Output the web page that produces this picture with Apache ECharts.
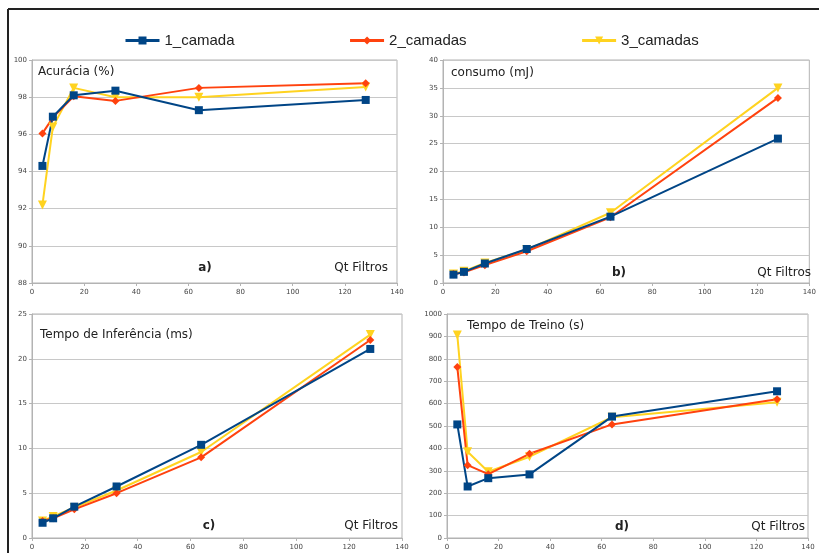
<!DOCTYPE html>
<html>
<head>
<meta charset="utf-8">
<script src="https://cdn.jsdelivr.net/npm/echarts@6/dist/echarts.min.js"></script>
<style>
  html, body { margin: 0; padding: 0; background: #fff; }
  #chart { width: 819px; height: 553px; }
</style>
</head>
<body>
<div id="chart"></div>
<script>
// Number of filters tested
const filtros = [4, 8, 16, 32, 64, 128];
const seriesNames = ['1_camada', '2_camadas', '3_camadas'];

// a) Accuracy (%)
const acuracia1 = [94.3, 96.95, 98.1, 98.35, 97.3, 97.85];
const acuracia2 = [96.05, 96.9, 98.05, 97.8, 98.5, 98.75];
const acuracia3 = [92.2, 96.4, 98.5, 98.0, 98.0, 98.55];

// b) Energy consumption (mJ)
const consumo1 = [1.5, 2.0, 3.5, 6.1, 11.9, 25.9];
const consumo2 = [1.6, 1.9, 3.2, 5.7, 11.8, 33.2];
const consumo3 = [1.6, 2.1, 3.6, 6.0, 12.6, 35.0];

// c) Inference time (ms)
const inferencia1 = [1.7, 2.2, 3.5, 5.75, 10.4, 21.1];
const inferencia2 = [1.9, 2.2, 3.2, 5.0, 9.0, 22.1];
const inferencia3 = [1.9, 2.4, 3.4, 5.3, 9.6, 22.7];

// d) Training time (s)
const treino1 = [507, 230, 267, 284, 542, 655];
const treino2 = [763, 325, 285, 376, 507, 619];
const treino3 = [906, 385, 296, 363, 539, 606];

// y-axis ranges per panel
const yRanges = [
  { min: 88, max: 100, interval: 2 },
  { min: 0, max: 40, interval: 5 },
  { min: 0, max: 25, interval: 5 },
  { min: 0, max: 1000, interval: 100 }
];

const colors = ['#004586', '#ff420e', '#ffd320'];
const symbols = ['rect', 'diamond', 'triangle'];
const symbolSizes = [8, 8, 9];
const rotations = [0, 0, 180];

const panels = [
  [acuracia1, acuracia2, acuracia3],
  [consumo1, consumo2, consumo3],
  [inferencia1, inferencia2, inferencia3],
  [treino1, treino2, treino3]
];

const grids = [
  { left: 32, top: 60, width: 365, height: 223 },
  { left: 443, top: 60, width: 370, height: 223 },
  { left: 32, top: 314, width: 370, height: 224 },
  { left: 447, top: 314, width: 361, height: 224 }
];

const labelFont = { fontFamily: 'DejaVu Sans', fontSize: 7, color: '#444' };
const plain = v => String(v);

const xAxes = grids.map((g, i) => ({
  type: 'value', gridIndex: i, min: 0, max: 140, interval: 20,
  axisLine: { show: true, lineStyle: { color: '#b3b3b3', width: 1 } },
  axisTick: { show: true, length: 3, lineStyle: { color: '#b3b3b3' } },
  splitLine: { show: false },
  axisLabel: Object.assign({ margin: 6, formatter: plain }, labelFont)
}));

const yAxes = yRanges.map((r, i) => ({
  type: 'value', gridIndex: i, min: r.min, max: r.max, interval: r.interval,
  axisLine: { show: true, lineStyle: { color: '#b3b3b3', width: 1 } },
  axisTick: { show: true, length: 3, lineStyle: { color: '#b3b3b3' } },
  splitLine: { show: true, lineStyle: { color: '#c8c8c8', width: 1 } },
  axisLabel: Object.assign({ margin: 5, formatter: plain }, labelFont)
}));

// draw yellow first, blue last so the blue line sits on top
const series = [];
panels.forEach((vals, p) => {
  [2, 1, 0].forEach(k => {
    series.push({
      name: seriesNames[k],
      type: 'line',
      xAxisIndex: p, yAxisIndex: p,
      data: filtros.map((x, j) => [x, vals[k][j]]),
      symbol: symbols[k],
      symbolSize: symbolSizes[k],
      symbolRotate: rotations[k],
      showAllSymbol: true,
      lineStyle: { color: colors[k], width: 2 },
      itemStyle: { color: colors[k] },
      emphasis: { disabled: true },
      animation: false
    });
  });
});

function txt(x, y, text, opts) {
  return {
    type: 'text', x: x, y: y, silent: true,
    style: Object.assign({
      text: text, fill: '#222', fontFamily: 'DejaVu Sans', fontSize: 12,
      verticalAlign: 'middle', align: 'left'
    }, opts || {})
  };
}

const graphic = [
  // frame lines
  { type: 'line', shape: { x1: 8, y1: 9, x2: 819, y2: 9 }, style: { stroke: '#222', lineWidth: 2 } },
  { type: 'line', shape: { x1: 8, y1: 9, x2: 8, y2: 553 }, style: { stroke: '#222', lineWidth: 2 } },
  // panel titles
  txt(38, 72, 'Acurácia (%)'),
  txt(451, 73, 'consumo (mJ)'),
  txt(40, 335, 'Tempo de Inferência (ms)'),
  txt(467, 326, 'Tempo de Treino (s)'),
  // panel letters
  txt(205, 268, 'a)', { fontWeight: 'bold', align: 'center' }),
  txt(619, 273, 'b)', { fontWeight: 'bold', align: 'center' }),
  txt(209, 526, 'c)', { fontWeight: 'bold', align: 'center' }),
  txt(622, 527, 'd)', { fontWeight: 'bold', align: 'center' }),
  // x-axis names
  txt(388, 268, 'Qt Filtros', { align: 'right' }),
  txt(811, 273, 'Qt Filtros', { align: 'right' }),
  txt(398, 526, 'Qt Filtros', { align: 'right' }),
  txt(805, 527, 'Qt Filtros', { align: 'right' })
];

const chart = echarts.init(document.getElementById('chart'), null, { renderer: 'canvas' });
chart.setOption({
  animation: false,
  backgroundColor: '#fff',
  legend: {
    data: seriesNames,
    top: 28,
    left: 119,
    itemGap: 114,
    itemWidth: 34,
    itemHeight: 10,
    symbolRotate: 'inherit',
    lineStyle: { width: 3 },
    textStyle: { fontFamily: 'Liberation Sans', fontSize: 15, color: '#222' }
  },
  grid: grids.map(g => Object.assign({ show: true, borderColor: '#b3b3b3', borderWidth: 1, backgroundColor: 'transparent' }, g)),
  xAxis: xAxes,
  yAxis: yAxes,
  series: series,
  graphic: graphic
});
</script>
</body>
</html>
